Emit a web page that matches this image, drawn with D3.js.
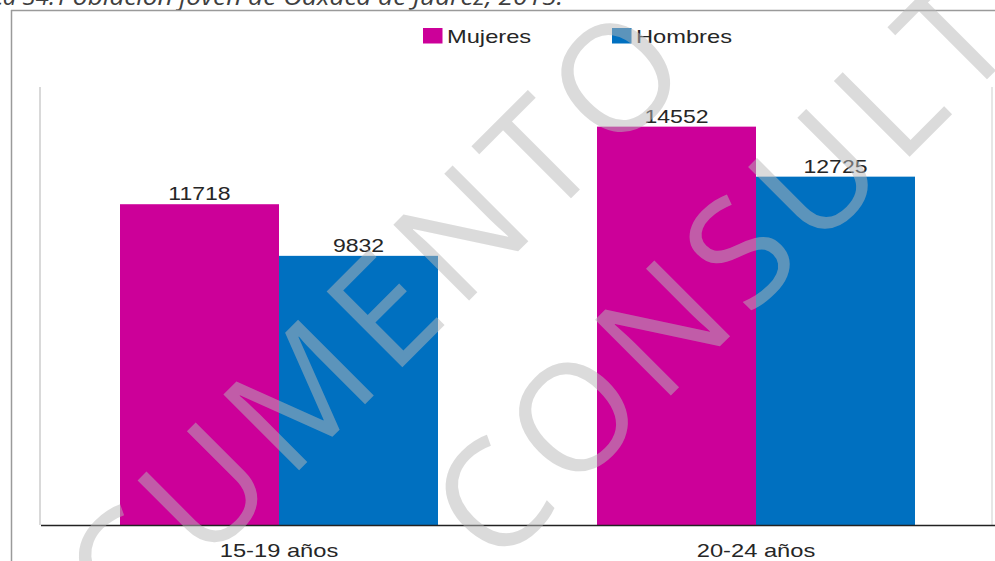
<!DOCTYPE html>
<html>
<head>
<meta charset="utf-8">
<script src="https://cdn.jsdelivr.net/npm/d3@7"></script>
<style>
html,body{margin:0;padding:0;background:#fff;}
svg{display:block;}
</style>
</head>
<body>
<svg id="chart" width="995" height="561"></svg>
<script>
const categories = ["15-19 años", "20-24 años"];
const seriesNames = ["Mujeres", "Hombres"];
const mujeres = [11718, 14552];
const hombres = [9832, 12725];
const colors = ["#cc0099", "#0070c0"];
const titlePrefix = "Gráfica 34: ";
const titleText = "Población joven de Oaxaca de Juárez, 2015.";
const watermark = ["DOCUMENTO", "CONSULTA"];

const W = 995, H = 561;
const svg = d3.select("#chart");
const font = "'Liberation Sans', Arial, sans-serif";
const SX = 1.28; // horizontal stretch of the original picture

const values = [mujeres, hombres];
const data = categories.map((c, i) => ({cat: c, vals: seriesNames.map((s, j) => ({s, v: values[j][i]}))}));

const x0 = d3.scaleBand().domain(categories).range([40.5, 994.5]).paddingInner(0).paddingOuter(0);
const bw = x0.bandwidth();
const x1 = d3.scaleBand().domain(seriesNames).range([bw / 6, bw * 5 / 6]).padding(0);
const y = d3.scaleLinear().domain([0, 16000]).range([525, 87]);
const color = d3.scaleOrdinal().domain(seriesNames).range(colors);

// title (cut at top)
svg.append("text").attr("x", 55).attr("y", 5).attr("text-anchor", "end")
  .attr("font-family", "'Open Sans', sans-serif").attr("font-style", "italic")
  .attr("font-size", 24).attr("fill", "#404040").text(titlePrefix);
svg.append("text").attr("x", 58).attr("y", 5)
  .attr("font-family", "'Open Sans', sans-serif").attr("font-style", "italic")
  .attr("font-size", 24).attr("fill", "#404040")
  .attr("textLength", 505).attr("lengthAdjust", "spacingAndGlyphs").text(titleText);

// outer frame
svg.append("line").attr("x1", 11).attr("x2", W).attr("y1", 10.5).attr("y2", 10.5)
  .attr("stroke", "#9a9a9a").attr("stroke-width", 1.5);
svg.append("line").attr("x1", 11.5).attr("x2", 11.5).attr("y1", 10).attr("y2", H)
  .attr("stroke", "#9a9a9a").attr("stroke-width", 1.5);

// plot side lines
svg.append("line").attr("x1", 40).attr("x2", 40).attr("y1", y(16000)).attr("y2", y(0))
  .attr("stroke", "#d9d9d9").attr("stroke-width", 2);
svg.append("line").attr("x1", 992).attr("x2", 992).attr("y1", y(16000)).attr("y2", y(0))
  .attr("stroke", "#e6e6e6").attr("stroke-width", 2);

// bars
const g = svg.append("g");
const groups = g.selectAll("g.grp").data(data).join("g").attr("class", "grp")
  .attr("transform", d => `translate(${x0(d.cat)},0)`);
groups.selectAll("rect").data(d => d.vals).join("rect")
  .attr("x", d => x1(d.s)).attr("width", x1.bandwidth())
  .attr("y", d => y(d.v)).attr("height", d => y(0) - y(d.v))
  .attr("fill", d => color(d.s));
groups.selectAll("text").data(d => d.vals).join("text")
  .attr("transform", d => `translate(${x1(d.s) + x1.bandwidth() / 2},${y(d.v) - 4}) scale(${SX},1)`)
  .attr("text-anchor", "middle").attr("font-family", font).attr("font-size", 18)
  .attr("fill", "#262626").text(d => d.v);

// x axis
const xAxis = svg.append("g").attr("transform", `translate(0,${y(0)})`)
  .call(d3.axisBottom(x0).tickSize(0).tickPadding(0));
xAxis.select(".domain").attr("stroke", "#222").attr("stroke-width", 1.6);
xAxis.selectAll(".tick text").attr("y", 0).attr("dy", 0)
  .attr("transform", `translate(0,32) scale(${SX},1)`)
  .attr("font-family", font).attr("font-size", 18.5).attr("fill", "#262626");

// legend
const legX = [423, 612];
const leg = svg.append("g");
seriesNames.forEach((s, i) => {
  leg.append("rect").attr("x", legX[i]).attr("y", 28).attr("width", 19.5).attr("height", 15.5).attr("fill", color(s));
  leg.append("text").attr("transform", `translate(${legX[i] + 24},43) scale(${SX},1)`)
    .attr("font-family", font).attr("font-size", 18.5).attr("fill", "#262626").text(s);
});

// watermark
const wm = svg.append("g").attr("transform", "rotate(-45)").attr("opacity", 0.5)
  .attr("pointer-events", "none");
const wmPos = [[-609, 544], [-53, 754]];
watermark.forEach((t, i) => {
  wm.append("text").attr("x", wmPos[i][0]).attr("y", wmPos[i][1])
    .attr("font-family", "'Open Sans', sans-serif").attr("font-size", 150)
    .attr("letter-spacing", 11).attr("fill", "#b8b8b8").text(t);
});
</script>
</body>
</html>
